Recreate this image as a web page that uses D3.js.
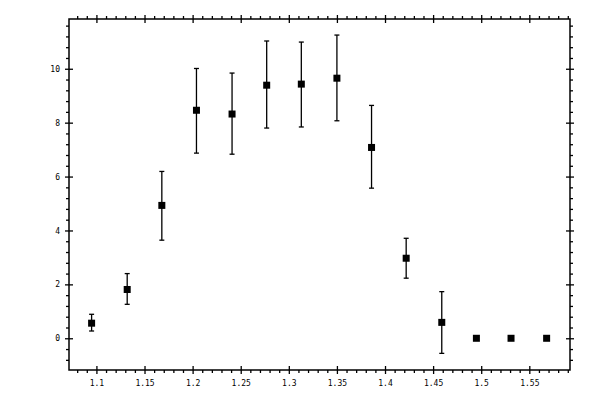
<!DOCTYPE html>
<html>
<head>
<meta charset="utf-8">
<script src="https://cdn.jsdelivr.net/npm/d3@7"></script>
<style>
  body { margin: 0; background: #fff; }
  .axis text { font-family: "DejaVu Sans Mono", monospace; font-size: 8px; fill: #000; }
  .axis path { display: none; }
  .axis line { stroke: #000; stroke-width: 1.3; }
</style>
</head>
<body>
<script>
// x positions of each point
var xs = [1.095, 1.132, 1.168, 1.204, 1.241, 1.277, 1.313, 1.350, 1.386, 1.422, 1.459, 1.495, 1.531, 1.568];
// measured values and error bar ends
var ys = [0.56, 1.81, 4.93, 8.46, 8.32, 9.39, 9.43, 9.65, 7.08, 2.97, 0.59, 0, 0, 0];
var yHi = [0.89, 2.40, 6.19, 10.01, 9.84, 11.03, 10.99, 11.25, 8.64, 3.71, 1.73, null, null, null];
var yLo = [0.27, 1.26, 3.64, 6.87, 6.83, 7.80, 7.84, 8.07, 5.57, 2.23, -0.56, null, null, null];

// tick values
var xMajor = [1.1, 1.15, 1.2, 1.25, 1.3, 1.35, 1.4, 1.45, 1.5, 1.55];
var xLabels = ['1.1', '1.15', '1.2', '1.25', '1.3', '1.35', '1.4', '1.45', '1.5', '1.55'];
var yMajor = [0, 2, 4, 6, 8, 10];

var data = xs.map(function(x, i) {
  return {x: x, y: ys[i], hi: yHi[i], lo: yLo[i]};
});

var margins = {top: 19, left: 69};
var width = 501, height = 351;

var xScale = d3.scaleLinear().domain([1.0715, 1.5923]).range([0, width]);
var yScale = d3.scaleLinear().domain([-1.177, 11.846]).range([height, 0]);

// minor ticks every 0.01 / 0.4
var xMinor = d3.range(108, 160).map(function(d) { return d / 100; })
  .filter(function(d) { return Math.round(d * 100) % 5 !== 0; });
var yMinor = d3.range(-2, 30).map(function(d) { return d * 0.4; })
  .filter(function(d) { return Math.abs(d / 2 - Math.round(d / 2)) > 1e-6 && d > -1.17 && d < 11.84; });

var svg = d3.select('body').append('svg')
    .attr('width', 600)
    .attr('height', 400)
  .append('g')
    .attr('transform', `translate(${margins.left}, ${margins.top})`);

// frame
svg.append('rect')
    .attr('width', width)
    .attr('height', height)
    .attr('fill', 'none')
    .attr('stroke', '#000')
    .attr('stroke-width', 1.5);

function majorCross(g, horiz) {
  g.selectAll('.tick line')
    .attr(horiz ? 'y1' : 'x1', -4)
    .attr(horiz ? 'y2' : 'x2', 4);
}

// bottom axis
svg.append('g').attr('class', 'axis')
    .attr('transform', `translate(0, ${height})`)
    .call(d3.axisBottom(xScale).tickValues(xMinor).tickSize(3).tickFormat(''));
svg.append('g').attr('class', 'axis')
    .attr('transform', `translate(0, ${height})`)
    .call(d3.axisBottom(xScale).tickValues(xMajor).tickSize(4).tickPadding(6)
      .tickFormat(function(d, i) { return xLabels[i]; }))
    .call(majorCross, true);

// top axis
svg.append('g').attr('class', 'axis')
    .call(d3.axisTop(xScale).tickValues(xMinor).tickSize(3).tickFormat(''));
svg.append('g').attr('class', 'axis')
    .call(d3.axisTop(xScale).tickValues(xMajor).tickSize(4).tickFormat(''))
    .call(majorCross, true);

// left axis
svg.append('g').attr('class', 'axis')
    .call(d3.axisLeft(yScale).tickValues(yMinor).tickSize(3).tickFormat(''));
svg.append('g').attr('class', 'axis')
    .call(d3.axisLeft(yScale).tickValues(yMajor).tickSize(4).tickPadding(5).tickFormat(d3.format('d')))
    .call(majorCross, false);

// right axis
svg.append('g').attr('class', 'axis')
    .attr('transform', `translate(${width}, 0)`)
    .call(d3.axisRight(yScale).tickValues(yMinor).tickSize(3).tickFormat(''));
svg.append('g').attr('class', 'axis')
    .attr('transform', `translate(${width}, 0)`)
    .call(d3.axisRight(yScale).tickValues(yMajor).tickSize(4).tickFormat(''))
    .call(majorCross, false);

// error bars
var bars = data.filter(function(d) { return d.hi !== null; });
var eb = svg.selectAll('.err')
    .data(bars)
    .enter()
  .append('g')
    .attr('class', 'err')
    .attr('stroke', '#000')
    .attr('stroke-width', 1.3);
eb.append('line')
    .attr('x1', function(d) { return xScale(d.x); })
    .attr('x2', function(d) { return xScale(d.x); })
    .attr('y1', function(d) { return yScale(d.hi); })
    .attr('y2', function(d) { return yScale(d.lo); });
eb.append('line')
    .attr('x1', function(d) { return xScale(d.x) - 2.5; })
    .attr('x2', function(d) { return xScale(d.x) + 2.5; })
    .attr('y1', function(d) { return yScale(d.hi); })
    .attr('y2', function(d) { return yScale(d.hi); });
eb.append('line')
    .attr('x1', function(d) { return xScale(d.x) - 2.5; })
    .attr('x2', function(d) { return xScale(d.x) + 2.5; })
    .attr('y1', function(d) { return yScale(d.lo); })
    .attr('y2', function(d) { return yScale(d.lo); });

// squares
svg.selectAll('.pt')
    .data(data)
    .enter()
  .append('rect')
    .attr('class', 'pt')
    .attr('x', function(d) { return xScale(d.x) - 3.5; })
    .attr('y', function(d) { return yScale(d.y) - 3.5; })
    .attr('width', 7)
    .attr('height', 7)
    .attr('fill', '#000');
</script>
</body>
</html>
